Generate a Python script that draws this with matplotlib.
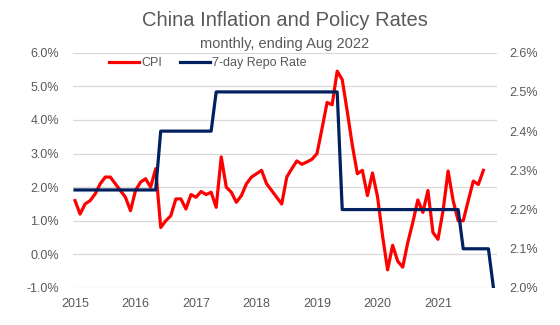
import numpy as np
import matplotlib
matplotlib.use("Agg")
import matplotlib.pyplot as plt
from matplotlib.lines import Line2D

plt.rcParams['font.family'] = ['Liberation Sans', 'DejaVu Sans']

# monthly data, Sep 2015 .. Aug 2022 (84 months)
cpi = [1.6, 1.2, 1.5, 1.6, 1.8, 2.1, 2.3, 2.3, 2.1, 1.9, 1.7, 1.3,
       1.9, 2.15, 2.25, 2.0, 2.55, 0.8, 1.0, 1.15, 1.65, 1.65, 1.35, 1.78,
       1.7, 1.87, 1.78, 1.85, 1.4, 2.9, 2.0, 1.85, 1.55, 1.75, 2.1, 2.3,
       2.4, 2.5, 2.1, 1.9, 1.7, 1.5, 2.3, 2.55, 2.78, 2.68, 2.75, 2.83,
       3.0, 3.75, 4.52, 4.45, 5.45, 5.2, 4.25, 3.25, 2.4, 2.5, 1.75, 2.42,
       1.72, 0.55, -0.46, 0.27, -0.2, -0.38, 0.35, 0.95, 1.62, 1.25, 1.9, 0.65,
       0.45, 1.3, 2.48, 1.6, 1.0, 1.0, 1.6, 2.18, 2.08, 2.5]
repo = [2.25, 2.25, 2.25, 2.25, 2.25, 2.25, 2.25, 2.25, 2.25, 2.25, 2.25, 2.25,
        2.25, 2.25, 2.25, 2.25, 2.25, 2.4, 2.4, 2.4, 2.4, 2.4, 2.4, 2.4,
        2.4, 2.4, 2.4, 2.4, 2.5, 2.5, 2.5, 2.5, 2.5, 2.5, 2.5, 2.5,
        2.5, 2.5, 2.5, 2.5, 2.5, 2.5, 2.5, 2.5, 2.5, 2.5, 2.5, 2.5,
        2.5, 2.5, 2.5, 2.5, 2.5, 2.2, 2.2, 2.2, 2.2, 2.2, 2.2, 2.2,
        2.2, 2.2, 2.2, 2.2, 2.2, 2.2, 2.2, 2.2, 2.2, 2.2, 2.2, 2.2,
        2.2, 2.2, 2.2, 2.2, 2.2, 2.1, 2.1, 2.1, 2.1, 2.1, 2.1, 2.0]
year_labels = ['2015', '2016', '2017', '2018', '2019', '2020', '2021']

gray = '#595959'
red = '#FF0000'
navy = '#002060'

fig = plt.figure(figsize=(5.6, 3.25), dpi=100)
ax = fig.add_axes([73 / 560, 1 - 288 / 325, 424 / 560, 235.3 / 325])
ax2 = ax.twinx()

ax.plot(np.arange(len(cpi)), cpi, color=red, lw=2.3, solid_joinstyle='round')
ax2.plot(np.arange(len(repo)), repo, color=navy, lw=2.3, solid_joinstyle='round')

ax.set_xlim(-0.4, 83.7)
ax.set_ylim(-1.0, 6.0)
ax2.set_ylim(2.0, 2.6)

ax.set_yticks(np.arange(-1, 7, 1))
ax.set_yticklabels([f'{v:.1f}%' for v in np.arange(-1, 7, 1)])
ax2.set_yticks(np.arange(2.0, 2.65, 0.1))
ax2.set_yticklabels([f'{v:.1f}%' for v in np.arange(2.0, 2.65, 0.1)])
ax.set_xticks(np.arange(0, 84, 12))
ax.set_xticklabels(year_labels)

ax.grid(axis='y', color='#D9D9D9', lw=0.9)
ax.set_axisbelow(True)
for a in (ax, ax2):
    for s in a.spines.values():
        s.set_visible(False)
    a.tick_params(length=0, labelsize=9, labelcolor=gray)
ax.tick_params(axis='y', pad=10)
ax2.tick_params(axis='y', pad=9)
ax.tick_params(axis='x', pad=7)

fig.text(285 / 560, 1 - 21 / 325, 'China Inflation and Policy Rates',
         ha='center', va='center', fontsize=14.5, color=gray)
fig.text(285 / 560, 1 - 44 / 325, 'monthly, ending Aug 2022',
         ha='center', va='center', fontsize=10.5, color=gray)

handles = [Line2D([], [], color=red, lw=2.3), Line2D([], [], color=navy, lw=2.3)]
ax2.legend(handles, ['CPI', '7-day Repo Rate'], ncol=2, frameon=False,
           loc='center', bbox_to_anchor=(208 / 560, 1 - 63 / 325),
           bbox_transform=fig.transFigure, fontsize=9, labelcolor=gray,
           handlelength=2.4, handletextpad=0.2, columnspacing=1.4)

fig.savefig('out.png', dpi=100)
